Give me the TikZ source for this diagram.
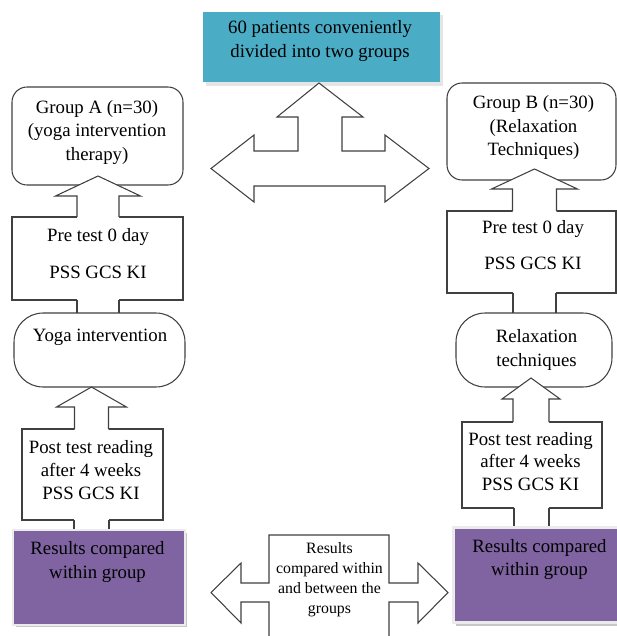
\documentclass[tikz,border=0pt]{standalone}
\usepackage{fontspec}
\setmainfont{Liberation Serif}
\usetikzlibrary{positioning}
\definecolor{topteal}{HTML}{4BACC6}
\definecolor{respurple}{HTML}{8064A2}
\definecolor{linegray}{HTML}{404040}

% block arrow head pointing up: x centre, body top, head base, tip, stem half, head half
\newcommand{\headup}[6]{%
  \fill[white] (#1-#5,#2+2) -- (#1-#5,#3) -- (#1-#6,#3) -- (#1,#4) -- (#1+#6,#3) -- (#1+#5,#3) -- (#1+#5,#2+2) -- cycle;
  \draw[edge] (#1-#5,#2) -- (#1-#5,#3) -- (#1-#6,#3) -- (#1,#4) -- (#1+#6,#3) -- (#1+#5,#3) -- (#1+#5,#2);}
% stem going down into the next box: left x, right x, body bottom, next box top
\newcommand{\stemdown}[4]{%
  \fill[white] (#1,#3-2) rectangle (#2,#4+2);
  \draw[edge] (#1,#3) -- (#1,#4+2) (#2,#3) -- (#2,#4+2);}

\tikzset{
  edge/.style={draw=linegray,line width=0.6pt},
  plainbox/.style={edge,fill=white,inner sep=0pt,outer sep=0pt},
  roundbox/.style={plainbox,rounded corners=0.3cm},
  pillbox/.style={plainbox,rounded corners=0.58cm},
  resbox/.style={fill=respurple,draw=white!92!black,line width=1.2pt,inner sep=0pt,outer sep=0pt},
  txt/.style={align=center,inner sep=0pt,font=\fontsize{10.7}{13.4}\selectfont},
  smalltxt/.style={align=center,inner sep=0pt,font=\fontsize{9}{11.4}\selectfont}
}

\begin{document}
\begin{tikzpicture}[x=0.02cm,y=-0.02cm]
\useasboundingbox (0,0) rectangle (617,636);
\clip (0,0) rectangle (617,636);

% top box
\fill[black!10] (206,15) rectangle (443,86);
\node[plainbox,fill=topteal,draw=none,minimum width=4.74cm,minimum height=1.40cm] (total) at (321.5,47) {};
\node[txt,font=\fontsize{10.7}{14.2}\selectfont] (totaltext) at (320,41) {60 patients conveniently\\divided into two groups};

% three way arrow
\filldraw[edge,fill=white] (319,83) -- (363,117) -- (342,117) -- (342,151) -- (385,151) -- (385,135)
  -- (429,168.5) -- (385,202) -- (385,186) -- (254,186) -- (254,202) -- (211,168.5) -- (254,135)
  -- (254,151) -- (298,151) -- (298,117) -- (277,117) -- cycle;

% group boxes
\node[roundbox,minimum width=3.42cm,minimum height=1.96cm] (grpA) at (97.5,136) {};
\node[txt] (grpAtext) at (97,132.5) {Group A (n=30)\\(yoga intervention\\therapy)};
\node[roundbox,minimum width=3.38cm,minimum height=1.94cm] (grpB) at (531.5,131.5) {};
\node[txt] (grpBtext) at (533.5,127.5) {Group B (n=30)\\(Relaxation\\Techniques)};

% pre test
\node[plainbox,minimum width=3.42cm,minimum height=1.66cm] (preA) at (97.5,258.5) {};
\headup{98}{217}{196}{176}{21}{42.5}
\stemdown{77}{119}{300}{313}
\node[txt] (preAtext) at (98,253.5) {Pre test 0 day\\[0.26cm]PSS GCS KI};
\node[plainbox,minimum width=3.38cm,minimum height=1.64cm] (preB) at (531.5,252) {};
\headup{534.5}{211}{189}{169}{22}{43}
\stemdown{513}{556}{293}{313}
\node[txt] (preBtext) at (533,245) {Pre test 0 day\\[0.26cm]PSS GCS KI};

% interventions
\node[pillbox,minimum width=3.42cm,minimum height=1.48cm] (yoga) at (99.5,350) {};
\node[txt] (yogatext) at (100,337) {Yoga intervention};
\node[pillbox,minimum width=3.12cm,minimum height=1.48cm] (relax) at (534,350) {};
\node[txt] (relaxtext) at (536.5,350) {Relaxation\\techniques};

% post test
\node[plainbox,minimum width=2.82cm,minimum height=1.82cm] (postA) at (92.5,474.5) {};
\headup{91.5}{429}{407}{387}{17}{35}
\stemdown{74}{109}{520}{530}
\node[txt,font=\fontsize{10.7}{13}\selectfont] (postAtext) at (91,470) {Post test reading\\after 4 weeks\\PSS GCS KI};
\node[plainbox,minimum width=2.8cm,minimum height=1.72cm] (postB) at (532,465) {};
\headup{531}{422}{399}{378}{18}{29}
\stemdown{514}{549}{508}{528}
\node[txt,font=\fontsize{10.7}{13}\selectfont] (postBtext) at (530.5,461.5) {Post test reading\\after 4 weeks\\PSS GCS KI};

% results
\fill[black!22] (16,533) rectangle (187,627);
\node[resbox,minimum width=3.44cm,minimum height=1.90cm] (resA) at (99,577.5) {};
\node[txt] (resAtext) at (97.5,562) {Results compared\\within group};
\fill[black!22] (456,531) rectangle (620,626);
\node[resbox,minimum width=3.3cm,minimum height=1.9cm] (resB) at (536,575) {};
\node[txt] (resBtext) at (539.5,559.5) {Results compared\\within group};

% comparison arrow
\filldraw[edge,fill=white] (269,650) -- (269,602) -- (241,602) -- (241,623) -- (211,592.5) -- (241,563)
  -- (241,583) -- (269,583) -- (269,535) -- (389,535) -- (389,583) -- (418,583) -- (418,563)
  -- (448,592.5) -- (418,623) -- (418,602) -- (389,602) -- (389,650);
\node[smalltxt] (comptext) at (329.5,580) {Results\\compared within\\and between the\\groups};
\end{tikzpicture}
\end{document}
